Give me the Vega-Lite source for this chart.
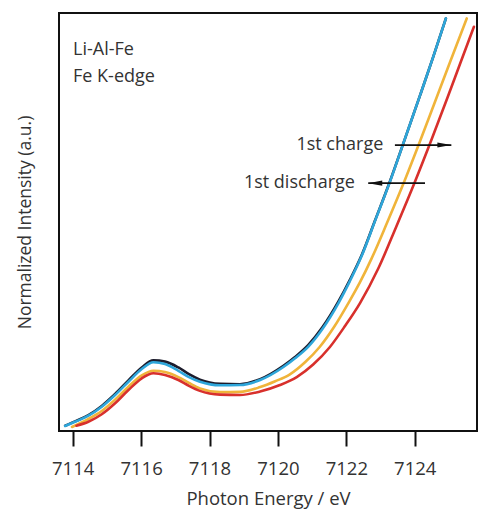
{
  "$schema": "https://vega.github.io/schema/vega-lite/v6.json",
  "width": 418,
  "height": 418,
  "autosize": {"type": "none"},
  "padding": {"left": 59, "top": 13, "right": 1, "bottom": 82},
  "background": "white",
  "config": {
    "view": {"stroke": "#111", "strokeWidth": 2},
    "font": "Open Sans"
  },
  "datasets": {
    "curves": [
      {"series": "black", "E": 7113.78, "I": 1.25},
      {"series": "black", "E": 7114.07, "I": 2.3},
      {"series": "black", "E": 7114.46, "I": 3.8},
      {"series": "black", "E": 7114.85, "I": 6.0},
      {"series": "black", "E": 7115.24, "I": 8.85},
      {"series": "black", "E": 7115.63, "I": 12.1},
      {"series": "black", "E": 7116.02, "I": 15.2},
      {"series": "black", "E": 7116.36, "I": 16.9},
      {"series": "black", "E": 7116.70, "I": 16.6},
      {"series": "black", "E": 7117.09, "I": 15.2},
      {"series": "black", "E": 7117.40, "I": 13.6},
      {"series": "black", "E": 7117.72, "I": 12.3},
      {"series": "black", "E": 7118.31, "I": 11.3},
      {"series": "black", "E": 7118.89, "I": 11.2},
      {"series": "black", "E": 7119.48, "I": 12.4},
      {"series": "black", "E": 7120.16, "I": 15.6},
      {"series": "black", "E": 7120.50, "I": 17.7},
      {"series": "black", "E": 7120.89, "I": 20.6},
      {"series": "black", "E": 7121.30, "I": 24.8},
      {"series": "black", "E": 7121.77, "I": 31.0},
      {"series": "black", "E": 7122.10, "I": 36.1},
      {"series": "black", "E": 7122.45, "I": 42.1},
      {"series": "black", "E": 7122.85, "I": 50.6},
      {"series": "black", "E": 7123.26, "I": 59.4},
      {"series": "black", "E": 7123.70, "I": 69.6},
      {"series": "black", "E": 7124.16, "I": 80.4},
      {"series": "black", "E": 7124.54, "I": 89.5},
      {"series": "black", "E": 7124.91, "I": 98.7},

      {"series": "orange", "E": 7113.98, "I": 0.96},
      {"series": "orange", "E": 7114.46, "I": 2.9},
      {"series": "orange", "E": 7114.85, "I": 4.8},
      {"series": "orange", "E": 7115.24, "I": 7.5},
      {"series": "orange", "E": 7115.63, "I": 10.6},
      {"series": "orange", "E": 7116.02, "I": 13.3},
      {"series": "orange", "E": 7116.36, "I": 14.4},
      {"series": "orange", "E": 7116.70, "I": 14.1},
      {"series": "orange", "E": 7117.09, "I": 12.9},
      {"series": "orange", "E": 7117.40, "I": 11.5},
      {"series": "orange", "E": 7117.72, "I": 10.2},
      {"series": "orange", "E": 7118.31, "I": 9.3},
      {"series": "orange", "E": 7118.89, "I": 9.35},
      {"series": "orange", "E": 7119.48, "I": 10.5},
      {"series": "orange", "E": 7119.92, "I": 11.9},
      {"series": "orange", "E": 7120.34, "I": 13.5},
      {"series": "orange", "E": 7120.80, "I": 16.5},
      {"series": "orange", "E": 7121.22, "I": 20.1},
      {"series": "orange", "E": 7121.65, "I": 25.0},
      {"series": "orange", "E": 7122.06, "I": 30.6},
      {"series": "orange", "E": 7122.40, "I": 35.6},
      {"series": "orange", "E": 7122.74, "I": 41.3},
      {"series": "orange", "E": 7123.20, "I": 50.0},
      {"series": "orange", "E": 7123.70, "I": 59.8},
      {"series": "orange", "E": 7124.14, "I": 69.0},
      {"series": "orange", "E": 7124.59, "I": 78.7},
      {"series": "orange", "E": 7125.03, "I": 88.2},
      {"series": "orange", "E": 7125.52, "I": 98.7},

      {"series": "red", "E": 7114.11, "I": 1.27},
      {"series": "red", "E": 7114.46, "I": 2.22},
      {"series": "red", "E": 7114.85, "I": 4.0},
      {"series": "red", "E": 7115.24, "I": 6.63},
      {"series": "red", "E": 7115.63, "I": 9.81},
      {"series": "red", "E": 7116.02, "I": 12.61},
      {"series": "red", "E": 7116.36, "I": 13.8},
      {"series": "red", "E": 7116.70, "I": 13.4},
      {"series": "red", "E": 7117.09, "I": 12.2},
      {"series": "red", "E": 7117.40, "I": 10.8},
      {"series": "red", "E": 7117.72, "I": 9.6},
      {"series": "red", "E": 7118.31, "I": 8.7},
      {"series": "red", "E": 7118.89, "I": 8.6},
      {"series": "red", "E": 7119.48, "I": 9.45},
      {"series": "red", "E": 7120.06, "I": 11.0},
      {"series": "red", "E": 7120.55, "I": 12.9},
      {"series": "red", "E": 7121.03, "I": 15.9},
      {"series": "red", "E": 7121.52, "I": 20.1},
      {"series": "red", "E": 7121.96, "I": 25.1},
      {"series": "red", "E": 7122.40, "I": 30.6},
      {"series": "red", "E": 7122.93, "I": 38.8},
      {"series": "red", "E": 7123.45, "I": 48.7},
      {"series": "red", "E": 7124.00, "I": 59.5},
      {"series": "red", "E": 7124.50, "I": 69.9},
      {"series": "red", "E": 7124.95, "I": 79.6},
      {"series": "red", "E": 7125.35, "I": 88.4},
      {"series": "red", "E": 7125.73, "I": 96.7},

      {"series": "blue", "E": 7113.78, "I": 1.2},
      {"series": "blue", "E": 7114.07, "I": 2.22},
      {"series": "blue", "E": 7114.46, "I": 3.66},
      {"series": "blue", "E": 7114.85, "I": 5.81},
      {"series": "blue", "E": 7115.24, "I": 8.61},
      {"series": "blue", "E": 7115.63, "I": 11.79},
      {"series": "blue", "E": 7116.02, "I": 14.83},
      {"series": "blue", "E": 7116.36, "I": 16.44},
      {"series": "blue", "E": 7116.70, "I": 16.03},
      {"series": "blue", "E": 7117.09, "I": 14.4},
      {"series": "blue", "E": 7117.40, "I": 12.9},
      {"series": "blue", "E": 7117.72, "I": 11.8},
      {"series": "blue", "E": 7118.31, "I": 10.95},
      {"series": "blue", "E": 7118.89, "I": 11.0},
      {"series": "blue", "E": 7119.48, "I": 12.2},
      {"series": "blue", "E": 7120.16, "I": 15.3},
      {"series": "blue", "E": 7120.50, "I": 17.4},
      {"series": "blue", "E": 7120.89, "I": 20.2},
      {"series": "blue", "E": 7121.30, "I": 24.4},
      {"series": "blue", "E": 7121.77, "I": 30.6},
      {"series": "blue", "E": 7122.10, "I": 35.8},
      {"series": "blue", "E": 7122.45, "I": 41.9},
      {"series": "blue", "E": 7122.85, "I": 50.5},
      {"series": "blue", "E": 7123.26, "I": 59.3},
      {"series": "blue", "E": 7123.70, "I": 69.6},
      {"series": "blue", "E": 7124.16, "I": 80.4},
      {"series": "blue", "E": 7124.54, "I": 89.5},
      {"series": "blue", "E": 7124.91, "I": 98.7}
    ],
    "leftlabels": [
      {"text": "Li-Al-Fe", "E": 7114.01, "I": 91.1},
      {"text": "Fe K-edge", "E": 7114.01, "I": 84.7}
    ],
    "rightlabels": [
      {"text": "1st charge", "E": 7123.08, "I": 68.4},
      {"text": "1st discharge", "E": 7122.25, "I": 59.4}
    ],
    "arrows": [
      {"name": "charge", "from": 7123.42, "to": 7125.07, "I": 68.4, "dir": "right"},
      {"name": "discharge", "from": 7124.30, "to": 7122.64, "I": 59.3, "dir": "left"}
    ]
  },
  "layer": [
    {
      "data": {"name": "curves"},
      "mark": {"type": "line", "interpolate": "monotone", "strokeWidth": 2.6, "strokeCap": "round"},
      "encoding": {
        "x": {
          "field": "E", "type": "quantitative",
          "scale": {"domain": [7113.6, 7125.82], "nice": false, "zero": false},
          "axis": {
            "title": "Photon Energy / eV",
            "values": [7114, 7116, 7118, 7120, 7122, 7124],
            "format": "d",
            "grid": false,
            "domain": false,
            "tickSize": 15,
            "tickWidth": 2,
            "tickColor": "#111",
            "labelFontSize": 18.5,
            "labelColor": "#333",
            "labelPadding": 13,
            "labelFont": "Open Sans",
            "titleFont": "Open Sans",
            "titleFontSize": 18.5,
            "titleFontWeight": "normal",
            "titleColor": "#333",
            "titlePadding": 12
          }
        },
        "y": {
          "field": "I", "type": "quantitative",
          "scale": {"domain": [0, 100], "nice": false},
          "axis": {
            "title": "Normalized Intensity (a.u.)",
            "labels": false,
            "ticks": false,
            "domain": false,
            "grid": false,
            "titleFont": "Open Sans",
            "titleFontSize": 17.5,
            "titleFontWeight": "normal",
            "titleColor": "#333",
            "titlePadding": 25
          }
        },
        "color": {
          "field": "series", "type": "nominal",
          "scale": {"domain": ["black", "orange", "red", "blue"], "range": ["#1c1c2c", "#f0b43a", "#d8302c", "#2ea6da"]},
          "legend": null
        },
        "order": {"field": "E", "type": "quantitative"}
      }
    },
    {
      "data": {"name": "leftlabels"},
      "mark": {"type": "text", "font": "Open Sans", "fontSize": 18, "baseline": "middle", "align": "left", "color": "#333"},
      "encoding": {
        "x": {"field": "E", "type": "quantitative"},
        "y": {"field": "I", "type": "quantitative"},
        "text": {"field": "text"}
      }
    },
    {
      "data": {"name": "rightlabels"},
      "mark": {"type": "text", "font": "Open Sans", "fontSize": 18, "baseline": "middle", "align": "right", "color": "#333"},
      "encoding": {
        "x": {"field": "E", "type": "quantitative"},
        "y": {"field": "I", "type": "quantitative"},
        "text": {"field": "text"}
      }
    },
    {
      "data": {"name": "arrows"},
      "mark": {"type": "rule", "color": "#111", "strokeWidth": 1.6},
      "encoding": {
        "x": {"field": "from", "type": "quantitative"},
        "x2": {"field": "to"},
        "y": {"field": "I", "type": "quantitative"}
      }
    },
    {
      "data": {"name": "arrows"},
      "mark": {"type": "point", "filled": true, "color": "#111", "opacity": 1, "size": 196},
      "encoding": {
        "x": {"field": "to", "type": "quantitative"},
        "y": {"field": "I", "type": "quantitative"},
        "shape": {
          "field": "dir", "type": "nominal",
          "scale": {"domain": ["right", "left"], "range": ["M0,0L-2,-0.36L-2,0.36Z", "M0,0L2,-0.36L2,0.36Z"]},
          "legend": null
        }
      }
    }
  ]
}
